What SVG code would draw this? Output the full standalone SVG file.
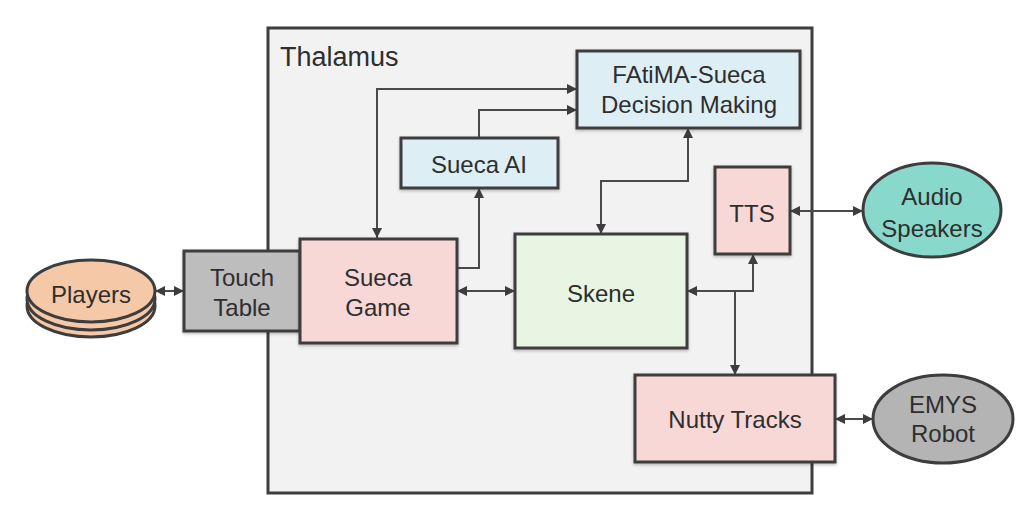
<svg xmlns="http://www.w3.org/2000/svg" width="1018" height="508" viewBox="0 0 1018 508">
<defs>
<style>
.box{stroke:#3d3d3d;stroke-width:3;filter:url(#sh)}
.pink{fill:#f8d7d7}
.blue{fill:#ddeef5}
.green{fill:#e9f5e3}
.t{font-family:"Liberation Sans",Arial,sans-serif;font-size:24px;fill:#2e2e2e;text-anchor:middle}
.c{fill:none;stroke:#4a4a4a;stroke-width:2}
.ab{marker-start:url(#ah);marker-end:url(#ah)}
.ae{marker-end:url(#ah)}
</style>
<filter id="sh" x="-10%" y="-10%" width="120%" height="130%">
<feDropShadow dx="0" dy="1.5" stdDeviation="1.5" flood-color="#000" flood-opacity="0.25"/>
</filter>
<marker id="ah" markerUnits="userSpaceOnUse" markerWidth="10" markerHeight="10" viewBox="0 0 10 10" refX="10" refY="5" orient="auto-start-reverse">
<path d="M0,0 L10,5 L0,10 z" fill="#3d3d3d"/>
</marker>
</defs>
<rect width="1018" height="508" fill="#fff"/>
<g id="thalamus">
<rect x="268" y="28" width="544" height="465" fill="#f2f2f2" stroke="#3d3d3d" stroke-width="3"/>
<text x="280" y="66" style="font-family:'Liberation Sans',Arial,sans-serif;font-size:27px;fill:#2e2e2e">Thalamus</text>
</g>
<g id="connectors">
<line class="c ab" x1="155" y1="291" x2="184" y2="291"/>
<line class="c ab" x1="457" y1="291" x2="515" y2="291"/>
<polyline class="c ae" points="457,268 479,268 479,188"/>
<polyline class="c ae" points="479,138 479,110 577,110"/>
<polyline class="c ab" points="377,238 377,89 577,89"/>
<polyline class="c ab" points="601,234 601,181 688,181 688,128"/>
<polyline class="c ab" points="687,291 753,291 753,254"/>
<polyline class="c ae" points="735,291 735,375"/>
<line class="c ab" x1="790" y1="211" x2="863" y2="211"/>
<line class="c ab" x1="835" y1="419" x2="873" y2="419"/>
</g>
<g id="players">
<ellipse cx="91" cy="306" rx="64" ry="31" fill="#f5c9a8" stroke="#3d3d3d" stroke-width="3"/>
<ellipse cx="91" cy="299" rx="64" ry="31" fill="#f5c9a8" stroke="#3d3d3d" stroke-width="3"/>
<ellipse cx="91" cy="291" rx="64" ry="31" fill="#f5c9a8" stroke="#3d3d3d" stroke-width="3"/>
<text class="t" x="91" y="303">Players</text>
</g>
<g id="touch-table">
<rect class="box" x="184" y="251" width="116" height="80" fill="#bdbdbd"/>
<text class="t" x="242" y="286">Touch</text>
<text class="t" x="242" y="316">Table</text>
</g>
<g id="sueca-game">
<rect class="box pink" x="300" y="239" width="157" height="104"/>
<text class="t" x="378" y="286">Sueca</text>
<text class="t" x="378" y="316">Game</text>
</g>
<g id="sueca-ai">
<rect class="box blue" x="401" y="138" width="157" height="50"/>
<text class="t" x="479" y="173">Sueca AI</text>
</g>
<g id="fatima">
<rect class="box blue" x="577" y="51" width="223" height="77"/>
<text class="t" x="689" y="83">FAtiMA-Sueca</text>
<text class="t" x="689" y="113">Decision Making</text>
</g>
<g id="skene">
<rect class="box green" x="515" y="234" width="172" height="114"/>
<text class="t" x="601" y="302">Skene</text>
</g>
<g id="tts">
<rect class="box pink" x="715" y="167" width="75" height="87"/>
<text class="t" x="752" y="222">TTS</text>
</g>
<g id="nutty-tracks">
<rect class="box pink" x="635" y="375" width="200" height="87"/>
<text class="t" x="735" y="428">Nutty Tracks</text>
</g>
<g id="audio-speakers">
<ellipse cx="932" cy="210" rx="69" ry="47" fill="#88d8cc" stroke="#3d3d3d" stroke-width="3"/>
<text class="t" x="932" y="205">Audio</text>
<text class="t" x="932" y="237">Speakers</text>
</g>
<g id="emys-robot">
<ellipse cx="943" cy="419" rx="70" ry="44" fill="#b4b4b4" stroke="#3d3d3d" stroke-width="3"/>
<text class="t" x="943" y="413">EMYS</text>
<text class="t" x="943" y="442">Robot</text>
</g>
</svg>
